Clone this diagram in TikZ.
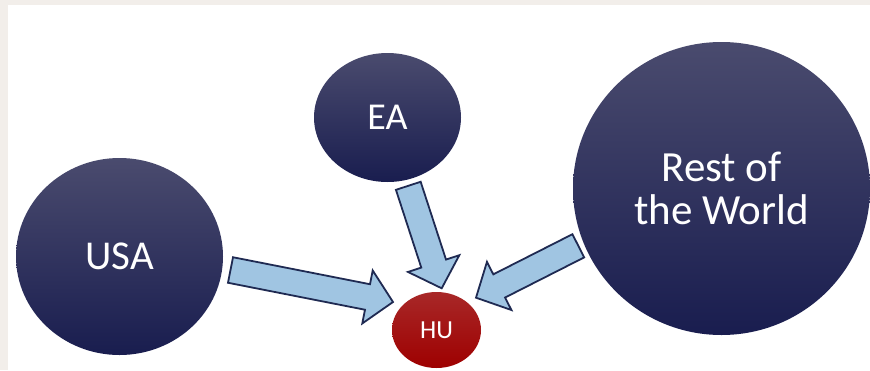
\documentclass[tikz,border=0pt]{standalone}
\usepackage{fontspec}
\setmainfont{Carlito}
\usetikzlibrary{shapes.geometric,calc}
\definecolor{framegray}{HTML}{F2EEEA}
\definecolor{navytop}{HTML}{4A4B6E}
\definecolor{navymid}{HTML}{232757}
\definecolor{navybot}{HTML}{191D4F}
\definecolor{hutop}{HTML}{A82828}
\definecolor{hubot}{HTML}{9E0000}
\definecolor{flowfill}{HTML}{A0C5E2}
\definecolor{flowline}{HTML}{1F2A52}
\tikzset{
  region/.style={ellipse,inner sep=0pt,text=white,align=center,
    top color=navytop,middle color=navymid,bottom color=navybot},
  home/.style={ellipse,inner sep=0pt,text=white,
    top color=hutop,bottom color=hubot},
  flow/.style={draw=flowline,fill=flowfill,line width=1.8pt,line join=miter}
}
\newcommand\flowarrow[2]{%
  \path ($(#2)!26pt!(#1)$) coordinate (hb);
  \draw[flow] ($(#1)!13pt!90:(#2)$) -- ($(hb)!13pt!90:(#2)$)
    -- ($(hb)!27pt!90:(#2)$) -- (#2) -- ($(hb)!27pt!-90:(#2)$)
    -- ($(hb)!13pt!-90:(#2)$) -- ($(#1)!13pt!-90:(#2)$) -- cycle;
}
\begin{document}
\begin{tikzpicture}[x=1pt,y=-1pt]
      \fill[framegray] (0,0) rectangle (870,370);
      \fill[white] (8,5) rectangle (870,370);
      \useasboundingbox (0,0) rectangle (870,370);
      \node[region,minimum width=207pt,minimum height=197pt,
        font=\fontsize{41}{43}\selectfont] (usa) at (119.5,256.5) {USA};
      \node[region,minimum width=147pt,minimum height=129pt,
        font=\fontsize{38}{40}\selectfont] (ea) at (387.5,117.5) {EA};
      \node[region,minimum width=297pt,minimum height=293pt,
        font=\fontsize{43}{43}\selectfont] (row) at (721.5,188.5) {Rest of\\the World};
      \node[home,minimum width=89pt,minimum height=76pt,
        font=\fontsize{26}{28}\selectfont] (hu) at (436.5,330) {HU};
      \coordinate (usatail) at (230.5,270);
      \coordinate (usatip) at (393,302);
      \coordinate (eatail) at (408.3,185.8);
      \coordinate (eatip) at (441.7,288.3);
      \coordinate (rowtail) at (578.3,245.8);
      \coordinate (rowtip) at (476,297.7);
      \flowarrow{usatail}{usatip}
      \flowarrow{eatail}{eatip}
      \flowarrow{rowtail}{rowtip}
    \end{tikzpicture}
\end{document}
